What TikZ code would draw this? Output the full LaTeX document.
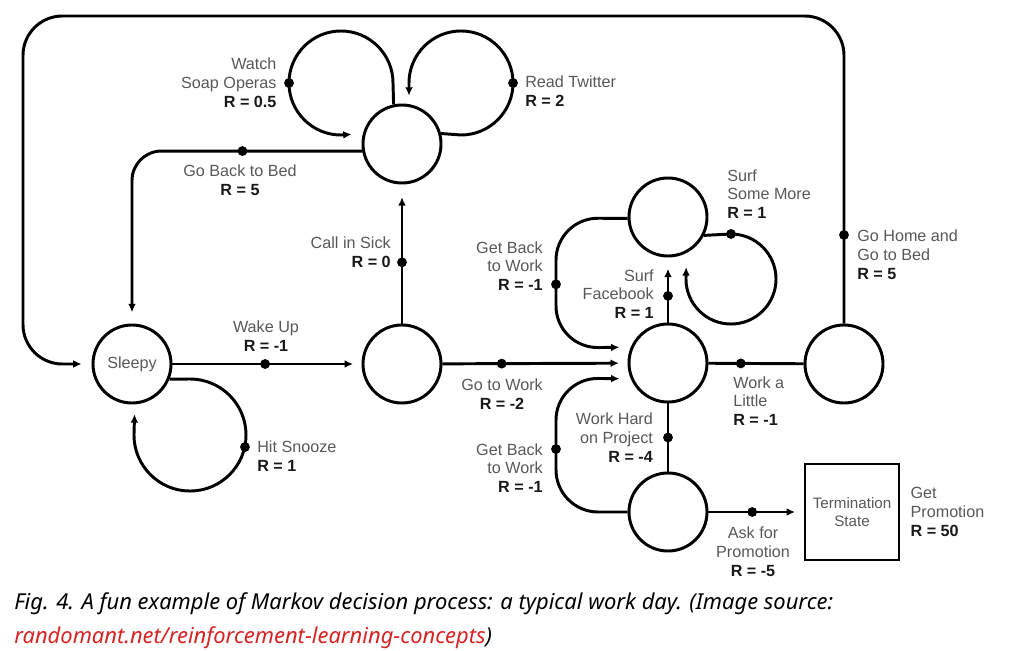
\documentclass[tikz,border=0pt]{standalone}
\usepackage{fontspec}
\setmainfont{Liberation Sans}
\newfontfamily\capfont{Noto Sans}
\usetikzlibrary{arrows.meta,positioning}
\definecolor{lblgray}{RGB}{88,88,88}
\definecolor{linkred}{RGB}{214,36,36}
\newcommand{\reward}[1]{{\color{black!90}\bfseries R = #1}}

\begin{document}
\begin{tikzpicture}[x=0.025cm,y=0.025cm,
    state/.style={circle,draw,line width=2.1pt,minimum size=1.95cm,inner sep=0pt},
    edge/.style={line width=2.1pt},
    arr/.style={edge,-{Latex[length=6pt,width=5.5pt]},shorten >=6pt},
    dot/.style={circle,fill,inner sep=0pt,minimum size=7pt},
    lbl/.style={font=\fontsize{11.5}{13.4}\selectfont\color{lblgray},inner sep=0pt,align=#1},
    lbl/.default=center]
  \useasboundingbox (0,0) rectangle (1013,-651);

  % states
  \node[state,font=\fontsize{11.5}{13}\selectfont\color{lblgray}] (sleepy) at (132,-364) {Sleepy};
  \node[state] (wake) at (402,-364) {};
  \node[state] (social) at (402,-144) {};
  \node[state] (work) at (668,-363) {};
  \node[state] (surf) at (668,-217) {};
  \node[state] (home) at (844,-364) {};
  \node[state] (hard) at (668,-512) {};
  \node[draw,line width=2.1pt,minimum width=2.35cm,minimum height=2.4cm,align=center,
        font=\fontsize{10.8}{12.5}\selectfont\color{lblgray}] (term) at (852,-512)
    {Termination\\State};

  % transitions
  \draw[arr] (sleepy) -- node[dot,pos=0.49] (dWake) {} (wake);
  \draw[arr,shorten >=9pt] (wake) -- node[dot,pos=0.44] (dSick) {} (social);
  \draw[arr,rounded corners=21pt,shorten >=8pt] (social.190) -| node[dot,pos=0.26] (dBed) {} (sleepy);
  \draw[arr,shorten >=8pt] (social.102) -- (393,-83) arc[start angle=0,end angle=270,radius=1.3cm] -- (social.165);
  \draw[arr] (social.15) -- (461,-135) arc[start angle=-90,end angle=180,radius=1.3cm] -- (social.80);
  \draw[arr,shorten >=7pt] (sleepy.-22) -- (190,-379) arc[start angle=90,end angle=-180,radius=1.4cm] -- (sleepy.-86);
  \draw[arr] (wake) -- node[dot,pos=0.32] (dGo) {} (work);
  \draw[edge] (work) -- node[dot,pos=0.34] (dLittle) {} (home);
  \draw[arr,shorten >=8pt] (work) -- node[dot,pos=0.41] (dFace) {} (surf);
  \draw[arr,shorten >=10pt] (surf.-27) -- (731,-234) arc[start angle=90,end angle=-180,radius=1.125cm] -- (surf.-63);
  \draw[arr,rounded corners=30pt,shorten >=8pt] (surf.182) -- (556,-218) -- node[dot,pos=0.51] (dBack) {} (556,-348) -- (work.157);
  \draw[arr,rounded corners=30pt,shorten >=8pt] (hard.180) -- (556,-512) -- node[dot,pos=0.47] (dBackTwo) {} (556,-378) -- (work.203);
  \draw[edge] (work) -- node[dot] (dHard) {} (hard);
  \draw[arr] (hard) -- node[dot,pos=0.46] (dAsk) {} (term);
  \draw[arr,rounded corners=28pt,shorten >=7pt] (home) |- node[dot,pos=0.144] (dHome) {} (23,-16) |- (sleepy);
  \node[dot] (dSoap) at (289,-83) {};
  \node[dot] (dTwit) at (513,-83) {};
  \node[dot] (dSnooze) at (245,-447) {};
  \node[dot] (dMore) at (731,-234) {};

  % labels
  \node[lbl=right,left=5pt of dSoap] (lSoap) {Watch\\Soap Operas\\\reward{0.5}};
  \node[lbl=left,anchor=west] (lTwit) at (525,-91) {Read Twitter\\\reward{2}};
  \node[lbl] (lBed) at (240,-180) {Go Back to Bed\\\reward{5}};
  \node[lbl=right,anchor=east] (lSick) at (391,-252) {Call in Sick\\\reward{0}};
  \node[lbl] (lWake) at (266,-336) {Wake Up\\\reward{-1}};
  \node[lbl=left,anchor=west] (lSnooze) at (257,-456) {Hit Snooze\\\reward{1}};
  \node[lbl] (lGo) at (502,-394) {Go to Work\\\reward{-2}};
  \node[lbl=right,anchor=east] (lFace) at (654,-294) {Surf\\Facebook\\\reward{1}};
  \node[lbl=right,anchor=east] (lBack) at (543,-266) {Get Back\\to Work\\\reward{-1}};
  \node[lbl=left,anchor=west] (lMore) at (727,-194) {Surf\\Some More\\\reward{1}};
  \node[lbl=left,anchor=west] (lHome) at (857,-255) {Go Home and\\Go to Bed\\\reward{5}};
  \node[lbl=left,anchor=west] (lLittle) at (733,-401) {Work a\\Little\\\reward{-1}};
  \node[lbl=right,left=6pt of dHard] (lHard) {Work Hard\\on Project\\\reward{-4}};
  \node[lbl=right,anchor=east] (lBackTwo) at (543,-468) {Get Back\\to Work\\\reward{-1}};
  \node[lbl] (lAsk) at (753,-552) {Ask for\\Promotion\\\reward{-5}};
  \node[lbl=left,right=7pt of term] (lPromo) {Get\\Promotion\\\reward{50}};

  % caption
  \node[anchor=base west,inner sep=0pt,font=\capfont\itshape\fontsize{15.6}{18}\selectfont] (capOne) at (14,-609)
    {Fig. 4. A fun example of Markov decision process: a typical work day. (Image source:};
  \node[anchor=base west,inner sep=0pt,font=\capfont\itshape\fontsize{15.6}{18}\selectfont] (capTwo) at (14,-643)
    {\textcolor{linkred}{randomant.net/reinforcement-learning-concepts})};
\end{tikzpicture}
\end{document}
